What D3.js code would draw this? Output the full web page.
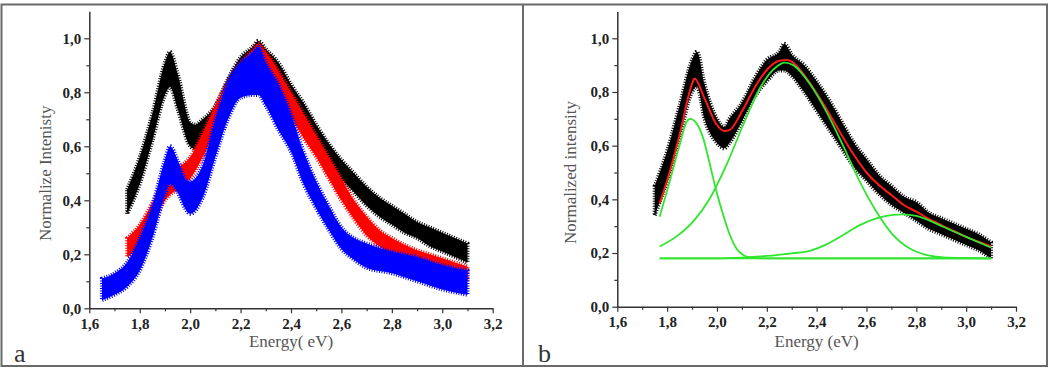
<!DOCTYPE html>
<html>
<head>
<meta charset="utf-8">
<script src="https://cdn.jsdelivr.net/npm/d3@7"></script>
<style>
  body { margin: 0; background: #fff; }
  text { font-family: "Liberation Serif", "Times New Roman", Times, serif; }
</style>
</head>
<body>
<div id="chart"></div>
<script>
// tick labels
var xTicks = [1.6, 1.8, 2.0, 2.2, 2.4, 2.6, 2.8, 3.0, 3.2];
var xMinor = [1.7, 1.9, 2.1, 2.3, 2.5, 2.7, 2.9, 3.1];
var yTicks = [0.0, 0.2, 0.4, 0.6, 0.8, 1.0];
var yMinor = [0.1, 0.3, 0.5, 0.7, 0.9];

// panel a - black spectrum (noise band, low / high edge)
var blackE  = [1.75, 1.8, 1.85, 1.9, 1.92, 1.95, 2.0, 2.02, 2.05, 2.1, 2.15, 2.2, 2.25, 2.27, 2.3, 2.35, 2.4, 2.45, 2.5, 2.55, 2.6, 2.65, 2.7, 2.75, 2.8, 2.85, 2.9, 2.95, 3.0, 3.05, 3.1];
var blackLo = [0.35, 0.46, 0.62, 0.79, 0.82, 0.74, 0.60, 0.59, 0.62, 0.68, 0.77, 0.84, 0.88, 0.89, 0.87, 0.82, 0.75, 0.68, 0.61, 0.54, 0.48, 0.43, 0.38, 0.34, 0.31, 0.28, 0.26, 0.23, 0.21, 0.19, 0.17];
var blackHi = [0.44, 0.56, 0.72, 0.91, 0.95, 0.87, 0.69, 0.68, 0.70, 0.75, 0.85, 0.93, 0.97, 0.99, 0.96, 0.91, 0.83, 0.76, 0.68, 0.61, 0.55, 0.50, 0.45, 0.41, 0.38, 0.35, 0.32, 0.30, 0.28, 0.26, 0.24];

// panel a - red spectrum
var redE  = [1.75, 1.8, 1.85, 1.9, 1.92, 1.95, 2.0, 2.05, 2.1, 2.15, 2.2, 2.25, 2.27, 2.3, 2.35, 2.4, 2.45, 2.5, 2.55, 2.6, 2.65, 2.7, 2.75, 2.8, 2.85, 2.9, 2.95, 3.0, 3.05, 3.1];
var redLo = [0.19, 0.23, 0.31, 0.40, 0.42, 0.44, 0.48, 0.56, 0.66, 0.76, 0.83, 0.87, 0.88, 0.86, 0.78, 0.71, 0.63, 0.56, 0.48, 0.40, 0.33, 0.27, 0.23, 0.20, 0.18, 0.16, 0.15, 0.13, 0.12, 0.10];
var redHi = [0.26, 0.31, 0.39, 0.48, 0.50, 0.52, 0.56, 0.65, 0.75, 0.84, 0.91, 0.96, 0.98, 0.95, 0.88, 0.80, 0.72, 0.64, 0.56, 0.48, 0.40, 0.34, 0.29, 0.26, 0.235, 0.215, 0.20, 0.185, 0.17, 0.155];

// panel a - blue spectrum
var blueE  = [1.65, 1.7, 1.75, 1.8, 1.85, 1.9, 1.92, 1.95, 1.98, 2.0, 2.05, 2.1, 2.15, 2.2, 2.25, 2.27, 2.3, 2.35, 2.4, 2.45, 2.5, 2.55, 2.6, 2.65, 2.7, 2.8, 2.9, 3.0, 3.1];
var blueLo = [0.03, 0.05, 0.08, 0.14, 0.26, 0.42, 0.46, 0.43, 0.37, 0.35, 0.41, 0.56, 0.70, 0.78, 0.79, 0.79, 0.75, 0.66, 0.58, 0.46, 0.37, 0.29, 0.22, 0.18, 0.15, 0.13, 0.10, 0.07, 0.05];
var blueHi = [0.11, 0.13, 0.17, 0.26, 0.38, 0.55, 0.60, 0.55, 0.48, 0.47, 0.53, 0.70, 0.84, 0.91, 0.95, 0.97, 0.91, 0.83, 0.72, 0.58, 0.47, 0.38, 0.30, 0.26, 0.24, 0.21, 0.19, 0.16, 0.14];

// panel b - measured spectrum
var measE  = [1.75, 1.8, 1.85, 1.9, 1.92, 1.95, 2.0, 2.03, 2.05, 2.1, 2.15, 2.2, 2.25, 2.27, 2.3, 2.35, 2.4, 2.45, 2.5, 2.55, 2.6, 2.65, 2.7, 2.75, 2.8, 2.85, 2.9, 2.95, 3.0, 3.05, 3.1];
var measLo = [0.34, 0.47, 0.63, 0.80, 0.82, 0.70, 0.61, 0.59, 0.61, 0.69, 0.78, 0.84, 0.88, 0.88, 0.86, 0.80, 0.73, 0.66, 0.59, 0.52, 0.47, 0.42, 0.38, 0.35, 0.32, 0.29, 0.27, 0.25, 0.23, 0.21, 0.18];
var measHi = [0.45, 0.58, 0.75, 0.92, 0.95, 0.83, 0.70, 0.67, 0.70, 0.76, 0.85, 0.92, 0.95, 0.98, 0.94, 0.90, 0.84, 0.77, 0.69, 0.61, 0.55, 0.49, 0.45, 0.41, 0.39, 0.35, 0.33, 0.31, 0.29, 0.27, 0.24];

// panel b - cumulative fit (red)
var fitE = [1.77, 1.8, 1.85, 1.9, 1.91, 1.95, 2.0, 2.03, 2.05, 2.1, 2.15, 2.2, 2.25, 2.28, 2.3, 2.35, 2.4, 2.45, 2.5, 2.55, 2.6, 2.65, 2.7, 2.75, 2.8, 2.85, 2.9, 2.95, 3.0, 3.05, 3.1];
var fitI = [0.385, 0.47, 0.64, 0.83, 0.85, 0.776, 0.677, 0.655, 0.658, 0.727, 0.814, 0.882, 0.916, 0.919, 0.913, 0.863, 0.795, 0.72, 0.64, 0.565, 0.50, 0.453, 0.416, 0.379, 0.354, 0.327, 0.304, 0.282, 0.26, 0.242, 0.224];

// panel b - fitted components (green)
var peak1E = [1.77, 1.81, 1.85, 1.878, 1.891, 1.918, 1.945, 1.972, 1.998, 2.025, 2.052, 2.078, 2.105, 2.132, 2.2, 3.1];
var peak1I = [0.335, 0.466, 0.602, 0.689, 0.70, 0.683, 0.627, 0.528, 0.429, 0.342, 0.267, 0.217, 0.193, 0.184, 0.18, 0.18];
var peak2E = [1.77, 1.838, 1.905, 1.972, 2.038, 2.105, 2.172, 2.239, 2.272, 2.306, 2.373, 2.439, 2.506, 2.573, 2.64, 2.707, 2.774, 2.84, 2.907, 3.1];
var peak2I = [0.224, 0.262, 0.318, 0.404, 0.528, 0.677, 0.814, 0.894, 0.909, 0.90, 0.83, 0.727, 0.60, 0.466, 0.354, 0.267, 0.217, 0.193, 0.184, 0.18];
var peak3E = [1.77, 2.0, 2.1, 2.2, 2.3, 2.373, 2.44, 2.506, 2.573, 2.64, 2.707, 2.747, 2.8, 2.907, 3.0, 3.1];
var peak3I = [0.18, 0.18, 0.183, 0.189, 0.199, 0.208, 0.232, 0.267, 0.304, 0.329, 0.342, 0.344, 0.338, 0.298, 0.26, 0.22];
var baseE = [1.77, 3.1];
var baseI = [0.18, 0.18];

var W = 1061, H = 369;
var svg = d3.select("#chart").append("svg")
    .attr("width", W)
    .attr("height", H);

// frame
svg.append("rect")
    .attr("x", 1.5).attr("y", 4.5)
    .attr("width", 1045.5).attr("height", 361.5)
    .attr("fill", "none").attr("stroke", "#6a6a6a").attr("stroke-width", 2);
svg.append("line")
    .attr("x1", 523).attr("x2", 523).attr("y1", 4.5).attr("y2", 366)
    .attr("stroke", "#6a6a6a").attr("stroke-width", 2);

var fmt = function(d) { return d3.format(".1f")(d).replace(".", ","); };
var zip = function(es, a, b) {
  return es.map(function(e, i) { return {e: e, lo: a[i], hi: b ? b[i] : a[i]}; });
};

function panel(opt) {
  var x = d3.scaleLinear().domain([1.6, 3.2]).range([opt.x0, opt.x1]);
  var y = d3.scaleLinear().domain([0, 1.1]).range([opt.y0, opt.y0 - opt.unit * 1.1]);
  var g = svg.append("g");

  opt.draw(g, x, y);

  // axes
  g.append("g").attr("transform", "translate(0," + opt.y0 + ")")
    .call(d3.axisBottom(x).tickValues(xTicks).tickFormat(fmt).tickSize(5).tickSizeOuter(0).tickPadding(5));
  g.append("g").attr("transform", "translate(0," + opt.y0 + ")")
    .call(d3.axisBottom(x).tickValues(xMinor).tickFormat("").tickSize(3).tickSizeOuter(0))
    .select(".domain").remove();
  g.append("g").attr("transform", "translate(" + opt.x0 + ",0)")
    .call(d3.axisLeft(y).tickValues(yTicks).tickFormat(fmt).tickSize(5).tickSizeOuter(0).tickPadding(3));
  g.append("g").attr("transform", "translate(" + opt.x0 + ",0)")
    .call(d3.axisLeft(y).tickValues(yMinor).tickFormat("").tickSize(3).tickSizeOuter(0))
    .select(".domain").remove();

  g.selectAll(".domain").attr("stroke", "#333").attr("stroke-width", 1.5);
  g.selectAll(".tick line").attr("stroke", "#333").attr("stroke-width", 1.2);
  g.selectAll(".tick text")
    .attr("font-family", "'Liberation Serif', 'Times New Roman', serif")
    .style("font-family", "'Liberation Serif', 'Times New Roman', serif")
    .style("font-weight", "bold")
    .style("font-size", "15px")
    .attr("fill", "#222");

  // titles
  g.append("text")
    .attr("x", (opt.x0 + opt.x1) / 2)
    .attr("y", 347)
    .attr("text-anchor", "middle")
    .style("font-size", "17px")
    .attr("fill", "#555")
    .text(opt.xTitle);
  g.append("text")
    .attr("transform", "translate(" + opt.yTitleX + "," + (opt.y0 - opt.unit * 0.5) + ") rotate(-90)")
    .attr("text-anchor", "middle")
    .style("font-size", "17px")
    .attr("fill", "#555")
    .text(opt.yTitle);
  g.append("text")
    .attr("x", opt.tagX).attr("y", 362)
    .style("font-size", "26px")
    .attr("fill", "#333")
    .text(opt.tag);
}

// noisy spectrum: smooth band, ragged outline drawn with a fine dash
function band(g, x, y, data, color) {
  var area = d3.area()
    .x(function(d) { return x(d.e); })
    .y0(function(d) { return y(d.lo); })
    .y1(function(d) { return y(d.hi); })
    .curve(d3.curveMonotoneX);
  g.append("path").datum(data)
    .attr("d", area)
    .attr("fill", color);
  g.append("path").datum(data)
    .attr("d", area)
    .attr("fill", "none")
    .attr("stroke", color)
    .attr("stroke-width", 4)
    .attr("stroke-dasharray", "1,1.5");
}

function curve(g, x, y, data, color, w) {
  var line = d3.line()
    .x(function(d) { return x(d.e); })
    .y(function(d) { return y(d.lo); })
    .curve(d3.curveMonotoneX);
  g.append("path").datum(data)
    .attr("d", line)
    .attr("fill", "none")
    .attr("stroke", color)
    .attr("stroke-width", w);
}

panel({
  x0: 89.3, x1: 492.7, y0: 308.3, unit: 270,
  xTitle: "Energy( eV)", yTitle: "Normalize Intenisty", yTitleX: 51, tag: "a", tagX: 14,
  draw: function(g, x, y) {
    band(g, x, y, zip(blackE, blackLo, blackHi), "#000");
    band(g, x, y, zip(redE, redLo, redHi), "#ff0000");
    band(g, x, y, zip(blueE, blueLo, blueHi), "#0000ff");
  }
});

panel({
  x0: 617.3, x1: 1016, y0: 306.7, unit: 268.4,
  xTitle: "Energy (eV)", yTitle: "Normalized intensity", yTitleX: 576, tag: "b", tagX: 538,
  draw: function(g, x, y) {
    band(g, x, y, zip(measE, measLo, measHi), "#000");
    curve(g, x, y, zip(fitE, fitI), "#ff1a1a", 2);
    curve(g, x, y, zip(peak1E, peak1I), "#2ee62e", 1.8);
    curve(g, x, y, zip(peak2E, peak2I), "#2ee62e", 1.8);
    curve(g, x, y, zip(peak3E, peak3I), "#2ee62e", 1.8);
    curve(g, x, y, zip(baseE, baseI), "#2ee62e", 1.8);
  }
});
</script>
</body>
</html>
